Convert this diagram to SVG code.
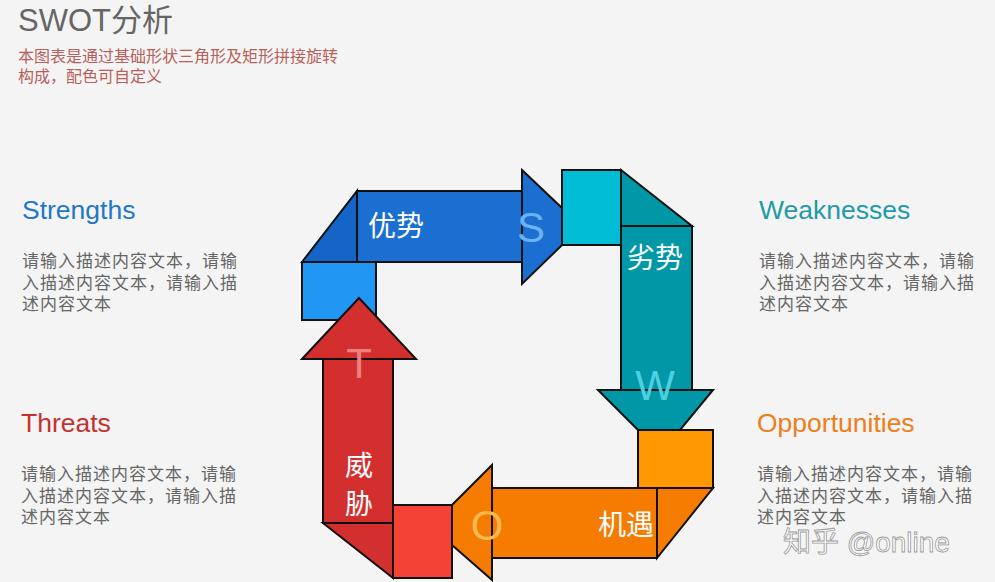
<svg xmlns="http://www.w3.org/2000/svg" width="995" height="582" viewBox="0 0 995 582">
<style>
.s{stroke:#111;stroke-width:2;stroke-linejoin:miter}
.t{font-family:"Liberation Sans","Noto Sans CJK SC",sans-serif}
.lab{font-family:"Noto Sans CJK SC",sans-serif;font-size:28px;fill:#fff}
.big{font-family:"Liberation Sans",sans-serif;font-size:42px}
.body{font-family:"Noto Sans CJK SC",sans-serif;font-size:17px;letter-spacing:1px;fill:#666}
.sub{font-family:"Noto Sans CJK SC",sans-serif;font-size:16px;fill:#b8605a}
.h{font-family:"Liberation Sans",sans-serif;font-size:26.5px}
</style>
<rect width="995" height="582" fill="#f4f4f4"/>
<text class="t" x="18" y="31" font-size="31" fill="#666">SWOT分析</text>
<text class="sub" x="18" y="62">本图表是通过基础形状三角形及矩形拼接旋转</text>
<text class="sub" x="18" y="82">构成，配色可自定义</text>
<g id="S">
<polygon class="s" fill="#1a6fd0" points="522,170 562,208 562,245 522,284"/>
<rect class="s" fill="#1a6fd0" x="357" y="191" width="165" height="71"/>
<polygon class="s" fill="#1565c8" points="302,262 357,191 357,262"/>
<rect class="s" fill="#2196f3" x="302" y="262" width="74" height="58"/>
<text class="lab" x="396" y="236" text-anchor="middle">优势</text>
<text class="big" x="531" y="242" text-anchor="middle" fill="#6cb2f0">S</text>
</g>
<g id="W">
<rect class="s" fill="#00bcd4" x="562" y="170" width="59" height="75"/>
<polygon class="s" fill="#0097a7" points="621,170 692,226 621,226"/>
<rect class="s" fill="#0097a7" x="621" y="226" width="71" height="164"/>
<polygon class="s" fill="#0097a7" points="598,390 713,390 680,430 638,430"/>
<text class="lab" x="655" y="268" text-anchor="middle">劣势</text>
<text class="big" x="655" y="400" text-anchor="middle" fill="#4fd0e0">W</text>
</g>
<g id="O">
<rect class="s" fill="#ff9800" x="638" y="430" width="75" height="58"/>
<polygon class="s" fill="#f57c00" points="492,465 452,505 452,545 492,580"/>
<rect class="s" fill="#f57c00" x="492" y="488" width="165" height="70"/>
<polygon class="s" fill="#f57c00" points="657,488 713,488 657,558"/>
<text class="lab" x="626" y="535" text-anchor="middle">机遇</text>
<text class="big" x="487" y="540" text-anchor="middle" fill="#ffb84d">O</text>
</g>
<g id="T">
<rect class="s" fill="#f44336" x="393" y="505" width="59" height="73"/>
<rect class="s" fill="#d32f2f" x="323" y="359" width="70" height="164"/>
<polygon class="s" fill="#d32f2f" points="323,523 393,523 393,578"/>
<polygon class="s" fill="#d32f2f" points="302,359 359,298 416,359"/>
<text class="big" x="359" y="378" text-anchor="middle" fill="#ef8080">T</text>
<text class="lab" x="359" y="476" text-anchor="middle">威</text>
<text class="lab" x="359" y="514" text-anchor="middle">胁</text>
</g>
<g id="texts">
<text class="h" x="22" y="219" fill="#1e78c8">Strengths</text>
<text class="body" x="22" y="267">请输入描述内容文本，请输</text>
<text class="body" x="22" y="289">入描述内容文本，请输入描</text>
<text class="body" x="22" y="310">述内容文本</text>
<text class="h" x="759" y="219" fill="#1f9aa8">Weaknesses</text>
<text class="body" x="759" y="267">请输入描述内容文本，请输</text>
<text class="body" x="759" y="289">入描述内容文本，请输入描</text>
<text class="body" x="759" y="310">述内容文本</text>
<text class="h" x="21" y="432" fill="#c8302e">Threats</text>
<text class="body" x="21" y="480">请输入描述内容文本，请输</text>
<text class="body" x="21" y="502">入描述内容文本，请输入描</text>
<text class="body" x="21" y="523">述内容文本</text>
<text class="h" x="757" y="432" fill="#ee7d1a">Opportunities</text>
<text class="body" x="757" y="480">请输入描述内容文本，请输</text>
<text class="body" x="757" y="502">入描述内容文本，请输入描</text>
<text class="body" x="757" y="523">述内容文本</text>
<text class="t" x="783" y="552" font-size="28" fill="#fff" stroke="#999" stroke-width="0.8">知乎 @online</text>
</g>
</svg>
